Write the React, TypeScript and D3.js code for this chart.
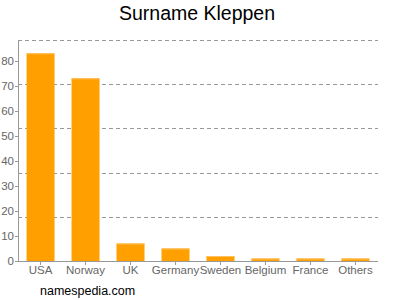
import React from "react";
import * as d3 from "d3";

const categories = ["USA", "Norway", "UK", "Germany", "Sweden", "Belgium", "France", "Others"];
const values = [83, 73, 7, 5, 2, 1, 1, 1];
const yTicks = [0, 10, 20, 30, 40, 50, 60, 70, 80];

export default function App() {
  const W = 400, H = 300;
  const left = 18, right = 378, top = 40, bottom = 261;
  const yMax = 88.3;
  const x = d3.scaleBand<string>().domain(categories).range([left, right]).paddingInner(0.378).paddingOuter(0.19);
  const y = d3.scaleLinear().domain([0, yMax]).range([bottom, top]);
  const grid = d3.range(1, 6).map((i) => (yMax * i) / 5);
  const font = "Liberation Sans, Arial, sans-serif";
  return (
    <svg width={W} height={H} style={{ position: "absolute", left: 0, top: 0 }} fontFamily={font}>
      <rect width={W} height={H} fill="#fff" />
      <text x={197} y={20} textAnchor="middle" fontSize={19.5} fill="#000">Surname Kleppen</text>
      {grid.map((g, i) => (
        <line key={i} x1={left} x2={right} y1={Math.round(y(g)) + 0.5} y2={Math.round(y(g)) + 0.5} stroke="#999" strokeDasharray="4,3" strokeWidth={1} />
      ))}
      {categories.map((c, i) => (
        <g key={c}>
          <rect x={x(c)} y={y(values[i])} width={x.bandwidth()} height={bottom - y(values[i])} fill="#FFA000" />
          <rect x={x(c)} y={y(values[i])} width={x.bandwidth()} height={1} fill="#FFC060" />
          <line x1={x(c)! + x.bandwidth() / 2} x2={x(c)! + x.bandwidth() / 2} y1={bottom} y2={bottom + 4} stroke="#999" />
          <text x={x(c)! + x.bandwidth() / 2} y={274} textAnchor="middle" fontSize={11.5} fill="#666">{c}</text>
        </g>
      ))}
      <line x1={left + 0.5} x2={left + 0.5} y1={top} y2={bottom} stroke="#999" />
      <line x1={left} x2={right} y1={bottom + 0.5} y2={bottom + 0.5} stroke="#999" />
      {yTicks.map((t) => (
        <g key={t}>
          <line x1={left - 3} x2={left} y1={Math.round(y(t)) + 0.5} y2={Math.round(y(t)) + 0.5} stroke="#999" />
          <text x={left - 4} y={y(t) + 4} textAnchor="end" fontSize={11.5} fill="#666">{t}</text>
        </g>
      ))}
      <text x={40} y={295} fontSize={12.5} fill="#000">namespedia.com</text>
    </svg>
  );
}
